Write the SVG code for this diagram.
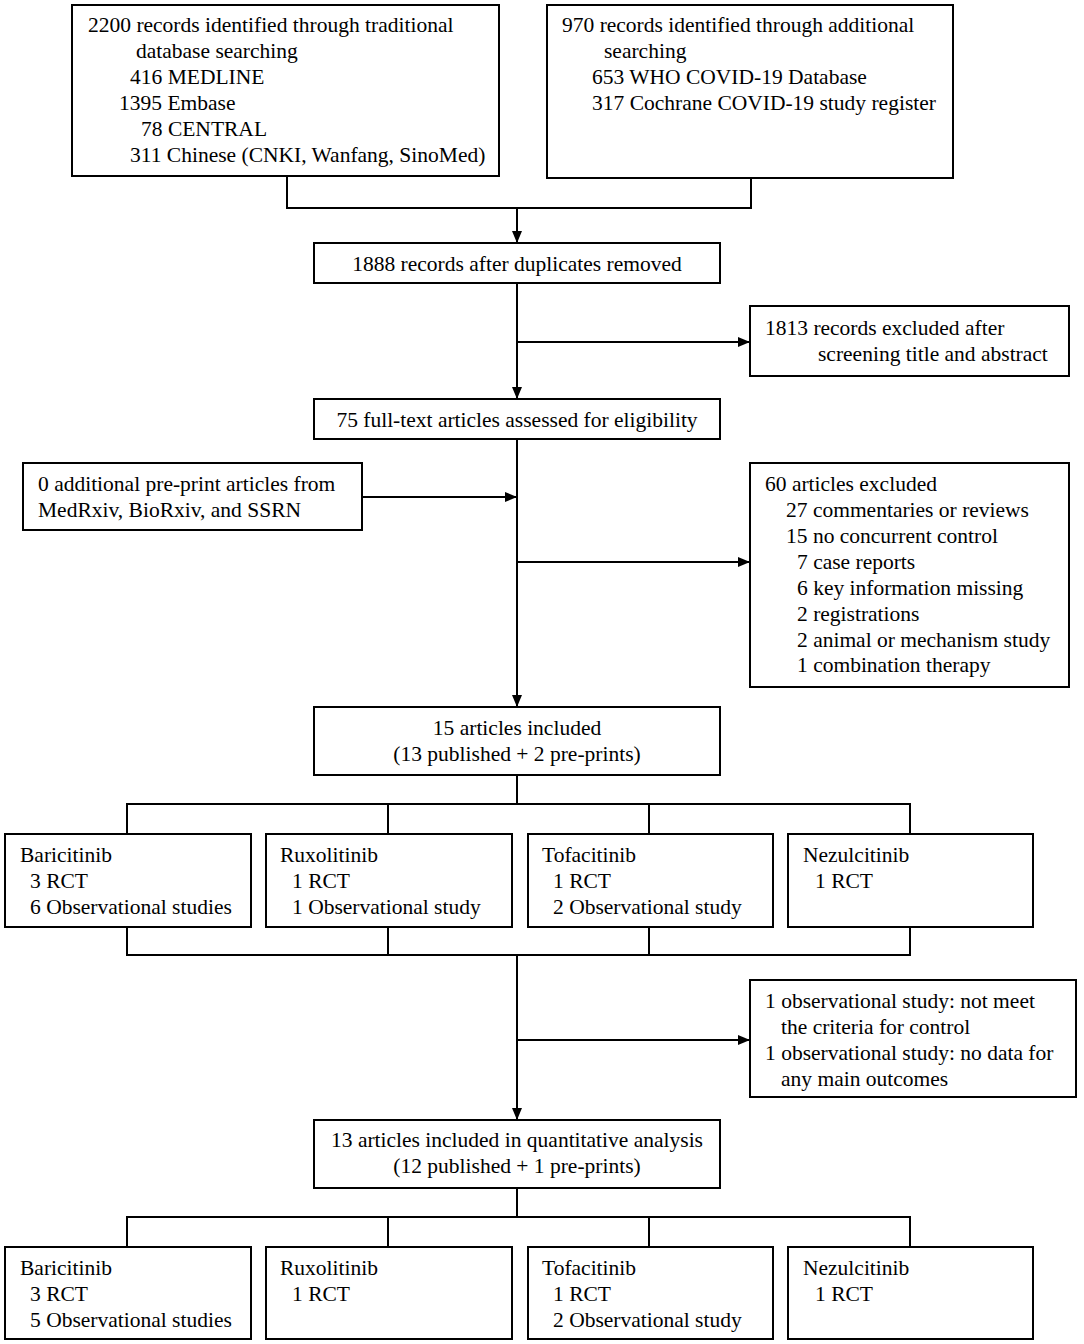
<svg xmlns="http://www.w3.org/2000/svg" width="1084" height="1344" viewBox="0 0 1084 1344">
<style>
.box{fill:#fff;stroke:#000;stroke-width:2}
.t{font-family:"Liberation Serif","Times New Roman",serif;font-size:21.5px;fill:#000}
.c{text-anchor:middle}
.ln{fill:none;stroke:#000;stroke-width:2}
</style>
<defs>
<marker id="ah" viewBox="0 0 12 10" refX="12" refY="5" markerWidth="12" markerHeight="10" markerUnits="userSpaceOnUse" orient="auto">
<path d="M0,0 L12,5 L0,10 Z" fill="#000"/>
</marker>
</defs>
<rect width="1084" height="1344" fill="#fff"/>
<g id="connectors">
<path class="ln" d="M287,176 V208 H751 V178"/>
<path class="ln" d="M517,208 V243" marker-end="url(#ah)"/>
<path class="ln" d="M517,283 V399" marker-end="url(#ah)"/>
<path class="ln" d="M517,342 H750" marker-end="url(#ah)"/>
<path class="ln" d="M517,439 V707" marker-end="url(#ah)"/>
<path class="ln" d="M362,497 H517" marker-end="url(#ah)"/>
<path class="ln" d="M517,562 H750" marker-end="url(#ah)"/>
<path class="ln" d="M517,775 V804 M127,834 V804 H910 V834 M388,804 V834 M649,804 V834"/>
<path class="ln" d="M127,927 V955 H910 V927 M388,927 V955 M649,927 V955"/>
<path class="ln" d="M517,955 V1120" marker-end="url(#ah)"/>
<path class="ln" d="M517,1040 H750" marker-end="url(#ah)"/>
<path class="ln" d="M517,1188 V1217 M127,1247 V1217 H910 V1247 M388,1217 V1247 M649,1217 V1247"/>
</g>
<g id="n-traditional">
<rect class="box" x="72" y="5" width="427" height="171"/>
<text class="t" x="88" y="32">2200 records identified through traditional</text>
<text class="t" x="136" y="58">database searching</text>
<text class="t" x="130" y="84">416 MEDLINE</text>
<text class="t" x="119" y="110">1395 Embase</text>
<text class="t" x="141" y="136">78 CENTRAL</text>
<text class="t" x="130" y="162">311 Chinese (CNKI, Wanfang, SinoMed)</text>
</g>
<g id="n-additional">
<rect class="box" x="547" y="5" width="406" height="173"/>
<text class="t" x="562" y="32">970 records identified through additional</text>
<text class="t" x="604" y="58">searching</text>
<text class="t" x="592" y="84">653 WHO COVID-19 Database</text>
<text class="t" x="592" y="110">317 Cochrane COVID-19 study register</text>
</g>
<g id="n-dedup">
<rect class="box" x="314" y="243" width="406" height="40"/>
<text class="t c" x="517" y="271">1888 records after duplicates removed</text>
</g>
<g id="n-excl1">
<rect class="box" x="750" y="306" width="319" height="70"/>
<text class="t" x="765" y="335">1813 records excluded after</text>
<text class="t" x="818" y="361">screening title and abstract</text>
</g>
<g id="n-fulltext">
<rect class="box" x="314" y="399" width="406" height="40"/>
<text class="t c" x="517" y="427">75 full-text articles assessed for eligibility</text>
</g>
<g id="n-preprint">
<rect class="box" x="23" y="463" width="339" height="67"/>
<text class="t" x="38" y="491">0 additional pre-print articles from</text>
<text class="t" x="38" y="517">MedRxiv, BioRxiv, and SSRN</text>
</g>
<g id="n-excl2">
<rect class="box" x="750" y="463" width="319" height="224"/>
<text class="t" x="765" y="491">60 articles excluded</text>
<text class="t" x="786" y="517">27 commentaries or reviews</text>
<text class="t" x="786" y="543">15 no concurrent control</text>
<text class="t" x="797" y="569">7 case reports</text>
<text class="t" x="797" y="595">6 key information missing</text>
<text class="t" x="797" y="621">2 registrations</text>
<text class="t" x="797" y="647">2 animal or mechanism study</text>
<text class="t" x="797" y="672">1 combination therapy</text>
</g>
<g id="n-included">
<rect class="box" x="314" y="707" width="406" height="68"/>
<text class="t c" x="517" y="735">15 articles included</text>
<text class="t c" x="517" y="761">(13 published + 2 pre-prints)</text>
</g>
<g id="n-bari1">
<rect class="box" x="5" y="834" width="246" height="93"/>
<text class="t" x="20" y="862">Baricitinib</text>
<text class="t" x="30" y="888">3 RCT</text>
<text class="t" x="30" y="914">6 Observational studies</text>
</g>
<g id="n-ruxo1">
<rect class="box" x="266" y="834" width="246" height="93"/>
<text class="t" x="280" y="862">Ruxolitinib</text>
<text class="t" x="292" y="888">1 RCT</text>
<text class="t" x="292" y="914">1 Observational study</text>
</g>
<g id="n-tofa1">
<rect class="box" x="528" y="834" width="245" height="93"/>
<text class="t" x="542" y="862">Tofacitinib</text>
<text class="t" x="553" y="888">1 RCT</text>
<text class="t" x="553" y="914">2 Observational study</text>
</g>
<g id="n-nezu1">
<rect class="box" x="788" y="834" width="245" height="93"/>
<text class="t" x="803" y="862">Nezulcitinib</text>
<text class="t" x="815" y="888">1 RCT</text>
</g>
<g id="n-excl3">
<rect class="box" x="750" y="980" width="326" height="117"/>
<text class="t" x="765" y="1008">1 observational study: not meet</text>
<text class="t" x="781" y="1034">the criteria for control</text>
<text class="t" x="765" y="1060">1 observational study: no data for</text>
<text class="t" x="781" y="1086">any main outcomes</text>
</g>
<g id="n-quant">
<rect class="box" x="314" y="1120" width="406" height="68"/>
<text class="t c" x="517" y="1147">13 articles included in quantitative analysis</text>
<text class="t c" x="517" y="1173">(12 published + 1 pre-prints)</text>
</g>
<g id="n-bari2">
<rect class="box" x="5" y="1247" width="246" height="92"/>
<text class="t" x="20" y="1275">Baricitinib</text>
<text class="t" x="30" y="1301">3 RCT</text>
<text class="t" x="30" y="1327">5 Observational studies</text>
</g>
<g id="n-ruxo2">
<rect class="box" x="266" y="1247" width="246" height="92"/>
<text class="t" x="280" y="1275">Ruxolitinib</text>
<text class="t" x="292" y="1301">1 RCT</text>
</g>
<g id="n-tofa2">
<rect class="box" x="528" y="1247" width="245" height="92"/>
<text class="t" x="542" y="1275">Tofacitinib</text>
<text class="t" x="553" y="1301">1 RCT</text>
<text class="t" x="553" y="1327">2 Observational study</text>
</g>
<g id="n-nezu2">
<rect class="box" x="788" y="1247" width="245" height="92"/>
<text class="t" x="803" y="1275">Nezulcitinib</text>
<text class="t" x="815" y="1301">1 RCT</text>
</g>
</svg>
